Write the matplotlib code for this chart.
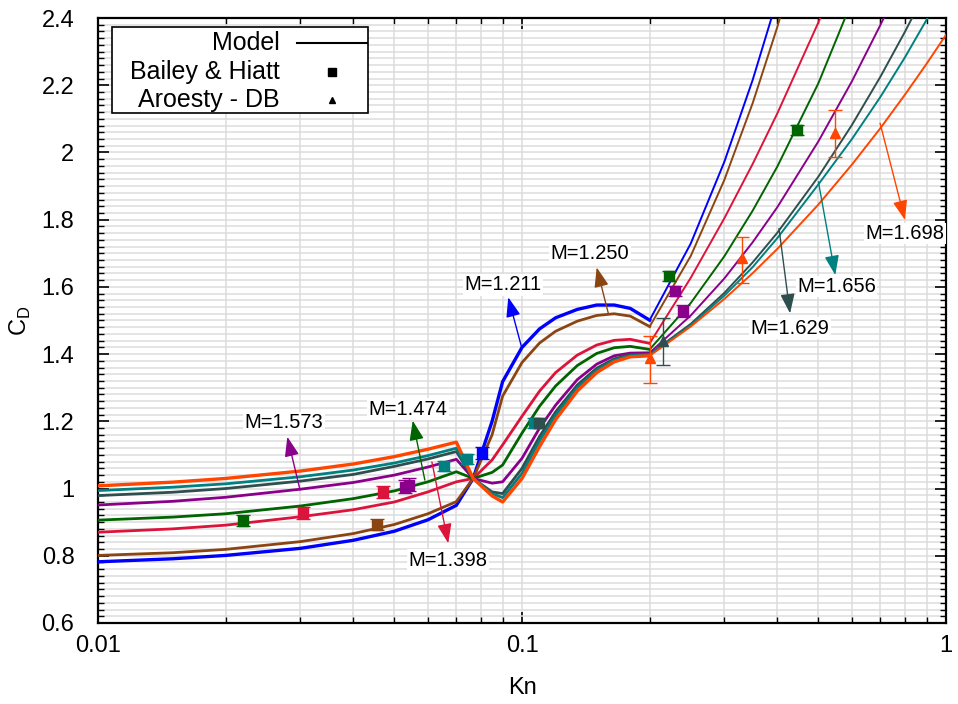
import matplotlib
matplotlib.use("Agg")
import matplotlib.pyplot as plt
from matplotlib.ticker import MultipleLocator, LogLocator, FuncFormatter, NullFormatter
from matplotlib.patches import Rectangle

plt.rcParams['font.family'] = ['Liberation Sans', 'DejaVu Sans']

# Knudsen grid for the model curves (continuum/transition part, then free-molecular side)
KN_LO = [0.01, 0.015, 0.02, 0.03, 0.04, 0.05, 0.06, 0.07, 0.0767, 0.085, 0.09,
         0.1, 0.11, 0.12, 0.135, 0.15, 0.165, 0.18, 0.2]
KN_HI = [0.2, 0.25, 0.3, 0.35, 0.4, 0.5, 0.6, 0.7, 0.8, 0.9, 1.0]

MACH = [1.211, 1.250, 1.398, 1.474, 1.573, 1.629, 1.656, 1.698]
COLORS = ['#0000ff', '#8b4513', '#dc143c', '#006400', '#8b008b', '#2f4f4f', '#008080', '#ff4500']

CD_LO = {
    1.211: [0.782, 0.791, 0.801, 0.822, 0.846, 0.873, 0.907, 0.950, 1.030, 1.200, 1.318,
            1.420, 1.475, 1.508, 1.533, 1.546, 1.546, 1.536, 1.501],
    1.250: [0.801, 0.809, 0.819, 0.842, 0.866, 0.893, 0.925, 0.961, 1.030, 1.160, 1.275,
            1.375, 1.433, 1.468, 1.498, 1.515, 1.520, 1.513, 1.482],
    1.398: [0.870, 0.880, 0.891, 0.916, 0.937, 0.960, 0.990, 1.020, 1.030, 1.085, 1.130,
            1.215, 1.290, 1.345, 1.397, 1.427, 1.441, 1.444, 1.432],
    1.474: [0.906, 0.915, 0.925, 0.948, 0.970, 0.993, 1.020, 1.050, 1.030, 1.048, 1.070,
            1.165, 1.245, 1.305, 1.366, 1.402, 1.419, 1.423, 1.414],
    1.573: [0.951, 0.962, 0.974, 0.998, 1.018, 1.040, 1.064, 1.087, 1.030, 1.016, 1.020,
            1.090, 1.180, 1.248, 1.324, 1.370, 1.395, 1.403, 1.404],
    1.629: [0.979, 0.989, 1.000, 1.022, 1.042, 1.066, 1.088, 1.110, 1.030, 0.990, 0.985,
            1.060, 1.155, 1.228, 1.308, 1.358, 1.386, 1.398, 1.400],
    1.656: [0.994, 1.004, 1.014, 1.035, 1.055, 1.076, 1.098, 1.120, 1.030, 0.985, 0.973,
            1.045, 1.142, 1.218, 1.300, 1.352, 1.382, 1.395, 1.398],
    1.698: [1.008, 1.019, 1.030, 1.052, 1.073, 1.095, 1.117, 1.138, 1.030, 0.978, 0.960,
            1.030, 1.125, 1.205, 1.290, 1.345, 1.377, 1.392, 1.395],
}
CD_HI = {
    1.211: [1.501, 1.729, 1.972, 2.216, 2.457],
    1.250: [1.482, 1.692, 1.918, 2.147, 2.373, 2.810],
    1.398: [1.432, 1.627, 1.804, 1.966, 2.116, 2.387, 2.626],
    1.474: [1.414, 1.552, 1.691, 1.827, 1.958, 2.206, 2.450],
    1.573: [1.404, 1.515, 1.625, 1.733, 1.837, 2.033, 2.212, 2.379, 2.533],
    1.629: [1.400, 1.490, 1.582, 1.673, 1.761, 1.928, 2.082, 2.225, 2.359, 2.484],
    1.656: [1.398, 1.486, 1.574, 1.659, 1.745, 1.905, 2.040, 2.165, 2.283, 2.395, 2.501],
    1.698: [1.395, 1.482, 1.564, 1.641, 1.713, 1.845, 1.964, 2.072, 2.172, 2.264, 2.350],
}

# Bailey & Hiatt (squares)
BH_KN = [0.0220, 0.0304, 0.0454, 0.0469, 0.0530, 0.0540, 0.0655, 0.0742, 0.0804,
         0.1070, 0.1095, 0.2217, 0.2297, 0.2391, 0.444]
BH_CD = [0.904, 0.928, 0.892, 0.989, 1.006, 1.012, 1.067, 1.087, 1.105,
         1.196, 1.196, 1.632, 1.588, 1.528, 2.067]
BH_ERR = [0.016, 0.018, 0.016, 0.018, 0.020, 0.020, 0.015, 0.015, 0.018,
          0.015, 0.015, 0.015, 0.015, 0.018, 0.015]
BH_M = [1.474, 1.398, 1.250, 1.398, 1.573, 1.573, 1.656, 1.656, 1.211,
        1.656, 1.629, 1.474, 1.573, 1.573, 1.474]

# Aroesty - DB (triangles)
AR_KN = [0.200, 0.2155, 0.3296, 0.5475]
AR_CD = [1.388, 1.440, 1.685, 2.059]
AR_ERR_LO = [0.073, 0.072, 0.074, 0.073]
AR_ERR_HI = [0.066, 0.067, 0.064, 0.067]
AR_M = [1.698, 1.629, 1.698, 1.698]

# label text position, arrow tip, arrow tail (on the curve)
LABEL_TEXT = {1.211: (0.0903, 1.606), 1.250: (0.1446, 1.698), 1.398: (0.0669, 0.787),
              1.474: (0.0539, 1.236), 1.573: (0.02746, 1.196), 1.629: (0.4287, 1.477),
              1.656: (0.552, 1.601), 1.698: (0.80, 1.759)}
LABEL_TIP = {1.211: (0.0928, 1.569), 1.250: (0.150, 1.658), 1.398: (0.067, 0.837),
             1.474: (0.05524, 1.202), 1.573: (0.02796, 1.154), 1.629: (0.4287, 1.521),
             1.656: (0.548, 1.635), 1.698: (0.80, 1.799)}
LABEL_TAIL = {1.211: (0.0998, 1.420), 1.250: (0.1598, 1.521), 1.398: (0.0613, 1.079),
              1.474: (0.0590, 1.025), 1.573: (0.02995, 0.996), 1.629: (0.4037, 1.774),
              1.656: (0.50, 1.913), 1.698: (0.699, 2.087)}

color_of = dict(zip(MACH, COLORS))

fig = plt.figure(figsize=(9.58, 7.04), dpi=100)
ax = fig.add_axes([0.1023, 0.1151, 0.8852, 0.8593])

# model curves
for m in MACH:
    c = color_of[m]
    wide = 2.4 if m in (1.211, 1.698) else 2.0
    ax.plot(KN_LO, CD_LO[m], color=c, lw=wide, zorder=3, solid_joinstyle='round')
    kn_hi = KN_HI[:len(CD_HI[m])]
    ax.plot(kn_hi, CD_HI[m], color=c, lw=1.4, zorder=3)

# experimental points
for kn, cd, err, m in zip(BH_KN, BH_CD, BH_ERR, BH_M):
    c = color_of[m]
    ax.errorbar([kn], [cd], yerr=[err], fmt='s', color=c, ms=7, capsize=5,
                elinewidth=1.0, capthick=1.0, zorder=4)
for kn, cd, lo, hi, m in zip(AR_KN, AR_CD, AR_ERR_LO, AR_ERR_HI, AR_M):
    c = color_of[m]
    ax.errorbar([kn], [cd], yerr=[[lo], [hi]], fmt='^', color=c, ms=7, capsize=5,
                elinewidth=1.0, capthick=1.0, zorder=4)

# Mach labels with arrows pointing at them
for m in MACH:
    c = color_of[m]
    ax.annotate('', xy=LABEL_TIP[m], xytext=LABEL_TAIL[m],
                arrowprops=dict(arrowstyle='-|>,head_length=0.6,head_width=0.22',
                                color=c, lw=1.0, shrinkA=0, shrinkB=0,
                                mutation_scale=20), zorder=5)
    ax.text(*LABEL_TEXT[m], f'M={m:.3f}', fontsize=14.5, ha='center', va='center',
            zorder=6, bbox=dict(facecolor='white', edgecolor='none', pad=1.0))

ax.set_xscale('log')
ax.set_xlim(0.01, 1)
ax.set_ylim(0.6, 2.4)

ax.xaxis.set_major_formatter(FuncFormatter(lambda v, p: f'{v:g}'))
ax.xaxis.set_minor_locator(LogLocator(base=10, subs=range(2, 10)))
ax.xaxis.set_minor_formatter(NullFormatter())
ax.yaxis.set_major_locator(MultipleLocator(0.2))
ax.yaxis.set_minor_locator(MultipleLocator(0.02))
ax.yaxis.set_major_formatter(FuncFormatter(lambda v, p: f'{v:g}'))

ax.grid(True, which='both', color='#dcdcdc', lw=1.1, zorder=0)
ax.set_axisbelow(True)
ax.tick_params(which='both', direction='in', top=True, right=True, labelsize=17)
ax.tick_params(which='major', length=8, width=1.2)
ax.tick_params(which='minor', length=4.5, width=1.0)
ax.tick_params(axis='y', which='major', pad=17)
ax.tick_params(axis='x', which='major', pad=9)
for s in ax.spines.values():
    s.set_linewidth(1.6)

ax.set_xlabel('Kn', fontsize=17, labelpad=14)
ax.set_ylabel('C$_\\mathregular{D}$', fontsize=17, labelpad=6)

# key box, text right-justified with the sample after it
ax.add_patch(Rectangle((0.0169, 0.843), 0.301, 0.1427, transform=ax.transAxes,
                       facecolor='white', edgecolor='black', lw=1.2, zorder=7))
rows = [0.9582, 0.9112, 0.8645]
names = ['Model', 'Bailey & Hiatt', 'Aroesty - DB']
for y, name in zip(rows, names):
    ax.text(0.2146, y, name, transform=ax.transAxes, fontsize=18, ha='right',
            va='center', zorder=8)
ax.plot([0.2343, 0.3169], [rows[0]] * 2, transform=ax.transAxes, color='black',
        lw=1.5, zorder=8, clip_on=False)
ax.plot([0.2756], [rows[1]], 's', transform=ax.transAxes, color='black', ms=6,
        zorder=8, clip_on=False)
ax.plot([0.2756], [rows[2]], '^', transform=ax.transAxes, color='black', ms=5,
        zorder=8, clip_on=False)

fig.savefig('out.png', dpi=100)
